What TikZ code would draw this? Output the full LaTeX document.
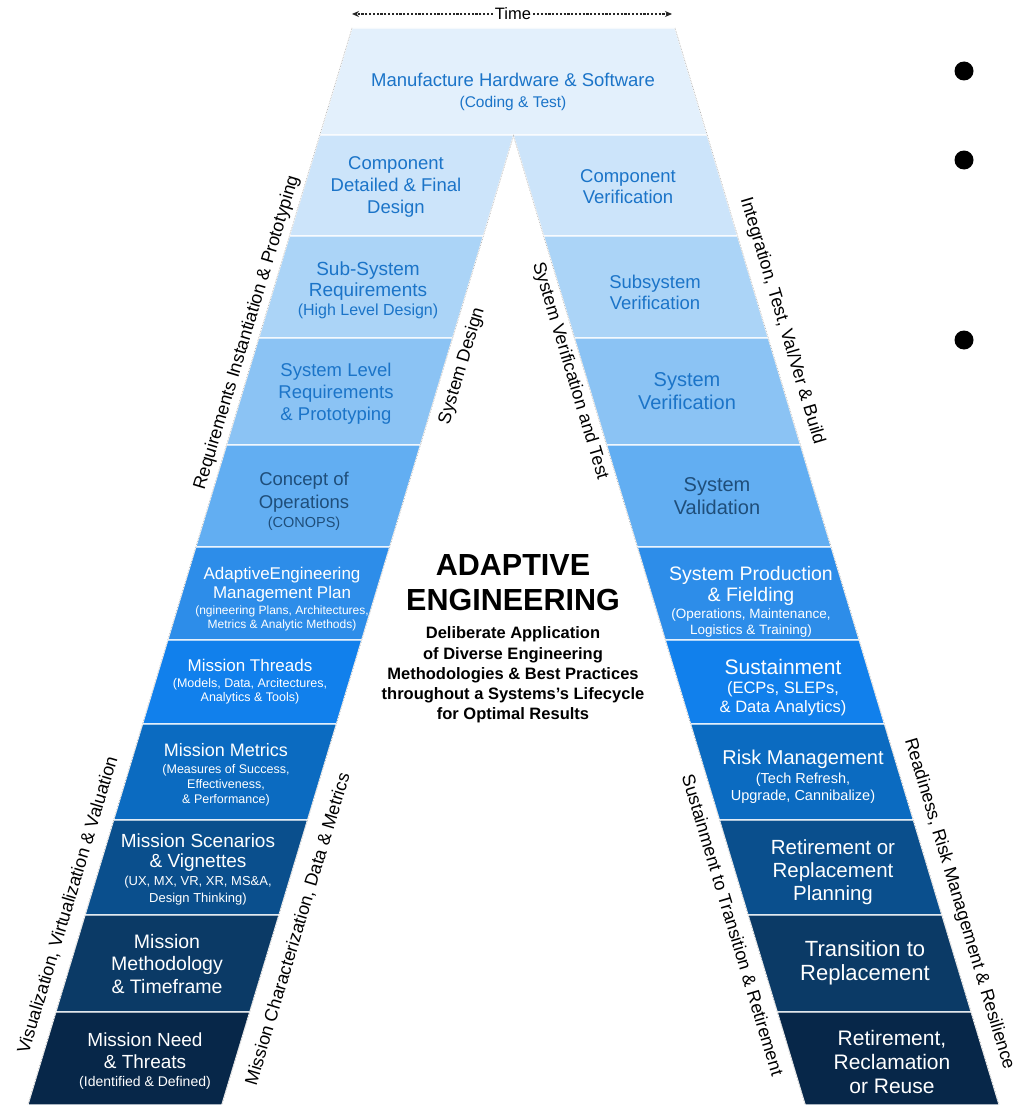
\documentclass[tikz,border=0pt]{standalone}
\usepackage{fontspec}
\setmainfont{Liberation Sans}
\usetikzlibrary{arrows.meta}

\definecolor{bandT}{HTML}{E3F0FC}
\definecolor{bandA}{HTML}{CCE4FA}
\definecolor{bandB}{HTML}{ABD4F7}
\definecolor{bandC}{HTML}{8BC3F4}
\definecolor{bandD}{HTML}{62AEF2}
\definecolor{bandE}{HTML}{2D8DE9}
\definecolor{bandF}{HTML}{1180EC}
\definecolor{bandG}{HTML}{0B6BC1}
\definecolor{bandH}{HTML}{0A4F8D}
\definecolor{bandI}{HTML}{0B3A66}
\definecolor{bandJ}{HTML}{072749}
\definecolor{txtblue}{HTML}{1B74C8}
\definecolor{txtdark}{HTML}{1F4E7A}

\newcommand{\pl}[2]{{\fontsize{#1}{#1}\selectfont #2}}

\begin{document}
\begin{tikzpicture}[x=1pt,y=-1pt,
	band/.style={draw=white,line width=1.2pt},
	edge/.style={gray!70,densely dotted,line width=0.6pt},
	upper/.style={align=center,text=txtblue,yshift=-2pt,font=\fontsize{18.5}{22}\selectfont},
	lower/.style={align=center,text=white,yshift=-2pt,font=\fontsize{19}{22}\selectfont},
	side/.style={font=\fontsize{18}{20}\selectfont,inner sep=0pt}]
	\useasboundingbox[fill=white] (0,0) rectangle (1017,1105);

	% time axis
	\node[font=\fontsize{16.5}{18}\selectfont,fill=white,inner sep=2pt] (time) at (513,14) {Time};
	\coordinate (tstart) at (352,14);
	\coordinate (tend) at (672,14);
	\draw[black!85,line width=1.2pt,dash pattern=on 2.2pt off 1.6pt,-{Stealth[length=7pt,width=6pt]}] (time) -- (tstart);
	\draw[black!85,line width=1.2pt,dash pattern=on 2.2pt off 1.6pt,-{Stealth[length=7pt,width=6pt]}] (time) -- (tend);

	% top band
	\filldraw[fill=bandT,band] (352,28) -- (675,28) -- (707.2,135) -- (319.8,135) -- cycle;

	% both legs
	\foreach \ya/\yb/\col in {135/236/bandA,236/338/bandB,338/445/bandC,445/547/bandD,547/640/bandE,
		640/724/bandF,724/820/bandG,820/915/bandH,915/1012/bandI,1012/1105/bandJ} {
		\filldraw[fill=\col,band] ({352-0.301*(\ya-28)},\ya) -- ({546-0.301*(\ya-28)},\ya)
			-- ({546-0.301*(\yb-28)},\yb) -- ({352-0.301*(\yb-28)},\yb) -- cycle;
		\filldraw[fill=\col,band] ({481+0.301*(\ya-28)},\ya) -- ({675+0.301*(\ya-28)},\ya)
			-- ({675+0.301*(\yb-28)},\yb) -- ({481+0.301*(\yb-28)},\yb) -- cycle;
	}
	\draw[edge] (352,28) -- (27.8,1105);
	\draw[edge] (675,28) -- (999.2,1105);
	\draw[edge] (513.8,135) -- (221.8,1105);
	\draw[edge] (513.2,135) -- (805.2,1105);

	% band texts
	\node[upper,font=\fontsize{18.5}{21}\selectfont] (mfg) at (513,90) {Manufacture Hardware \& Software\\\pl{15.5}{(Coding \& Test)}};
	\node[upper] (compdes) at (396,185) {Component\\Detailed \& Final\\Design};
	\node[upper,font=\fontsize{19}{21}\selectfont] (subreq) at (368,288) {Sub-System\\Requirements\\[-2pt]\pl{16}{(High Level Design)}};
	\node[upper] (sysreq) at (336,392) {System Level\\Requirements\\\& Prototyping};
	\node[upper,text=txtdark,font=\fontsize{18.5}{23}\selectfont] (conops) at (304,499) {Concept of\\Operations\\[-4pt]\pl{14.5}{(CONOPS)}};
	\node[lower,font=\fontsize{17}{19.5}\selectfont] (aemp) at (282,597) {AdaptiveEngineering\\Management Plan\\[-3.5pt]\pl{12}{(ngineering Plans, Architectures,}\\[-5.5pt]\pl{12}{Metrics \& Analytic Methods)}};
	\node[lower,font=\fontsize{17}{16}\selectfont] (threads) at (250,680) {Mission Threads\\\pl{12.5}{(Models, Data, Arcitectures,}\\[-2pt]\pl{12.5}{Analytics \& Tools)}};
	\node[lower,font=\fontsize{18}{17.5}\selectfont] (metrics) at (226,773) {Mission Metrics\\\pl{12.5}{(Measures of Success,}\\[-2.5pt]\pl{12.5}{Effectiveness,}\\[-2.5pt]\pl{12.5}{\& Performance)}};
	\node[lower,font=\fontsize{19}{20}\selectfont] (scen) at (198,867) {Mission Scenarios\\\& Vignettes\\[-2pt]\pl{13}{(UX, MX, VR, XR, MS\&A,}\\[-3pt]\pl{13}{Design Thinking)}};
	\node[lower,font=\fontsize{19.5}{22.5}\selectfont] (method) at (167,962) {Mission\\Methodology\\\& Timeframe};
	\node[lower] (need) at (145,1059) {Mission Need\\\& Threats\\[-4pt]\pl{14}{(Identified \& Defined)}};

	\node[upper,font=\fontsize{18.5}{21}\selectfont] (compver) at (628,185) {Component\\Verification};
	\node[upper,font=\fontsize{18.5}{21}\selectfont] (subver) at (655,290) {Subsystem\\Verification};
	\node[upper,font=\fontsize{20}{22.5}\selectfont] (sysver) at (687,389) {System\\Verification};
	\node[upper,text=txtdark,font=\fontsize{20}{23}\selectfont] (sysval) at (717,494) {System\\Validation};
	\node[lower,font=\fontsize{19.5}{21.5}\selectfont] (prod) at (751,600) {System Production\\\& Fielding\\[-4.5pt]\pl{13.5}{(Operations, Maintenance,}\\[-5.5pt]\pl{13.5}{Logistics \& Training)}};
	\node[lower,font=\fontsize{21}{19}\selectfont] (sust) at (783,686) {Sustainment\\\pl{16.5}{(ECPs, SLEPs,}\\\pl{16.5}{\& Data Analytics)}};
	\node[lower,font=\fontsize{20}{19}\selectfont] (risk) at (803,775) {Risk Management\\\pl{14.5}{(Tech Refresh,}\\[-2pt]\pl{14.5}{Upgrade, Cannibalize)}};
	\node[lower,font=\fontsize{20.5}{23}\selectfont] (retplan) at (833,870) {Retirement or\\Replacement\\Planning};
	\node[lower,font=\fontsize{22}{24}\selectfont] (trans) at (865,961) {Transition to\\Replacement};
	\node[lower,font=\fontsize{21}{24}\selectfont] (reuse) at (892,1060) {Retirement,\\Reclamation\\or Reuse};

	% side labels
	\node[side,rotate=73.25] (reqinst) at (247,333) {Requirements Instantiation \& Prototyping};
	\node[side,rotate=73.25] (sysdes) at (462,366) {System Design};
	\node[side,rotate=-73.25] (svt) at (570,371) {System Verification and Test};
	\node[side,rotate=-73.25] (itvb) at (782,321) {Integration, Test, Val/Ver \& Build};
	\node[side,rotate=73.25] (vvv) at (68,905) {Visualization, Virtualization \& Valuation};
	\node[side,rotate=73.25] (mcdm) at (298,929) {Mission Characterization, Data \& Metrics};
	\node[side,rotate=-73.25] (stret) at (733,925) {Sustainment to Transition \& Retirement};
	\node[side,rotate=-73.25] (rrmr) at (959,904) {Readiness, Risk Management \& Resilience};

	% centre
	\node[font=\fontsize{30.5}{35}\selectfont\bfseries,align=center] (title) at (513,583) {ADAPTIVE\\ENGINEERING};
	\node[font=\fontsize{16.5}{20.25}\selectfont\bfseries,align=center] (tagline) at (513,675) {Deliberate Application\\of Diverse Engineering\\Methodologies \& Best Practices\\throughout a Systems's Lifecycle\\for Optimal Results};

	% bullets
	\foreach \n/\y in {1/71,2/160,3/340}
		\node[circle,fill=black,minimum size=19pt,inner sep=0pt] (dot\n) at (964,\y) {};
\end{tikzpicture}
\end{document}
